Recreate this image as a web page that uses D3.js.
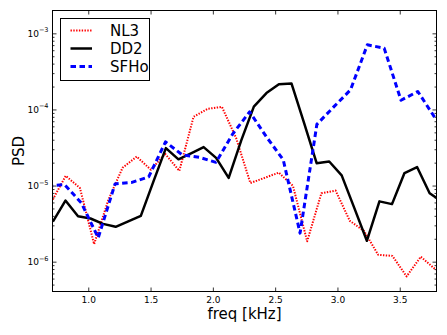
<!DOCTYPE html>
<html>
<head>
<meta charset="utf-8">
<script src="https://cdn.jsdelivr.net/npm/d3@7"></script>
<style>
  body { margin: 0; background: #fff; }
  svg { display: block; font-family: "DejaVu Sans", sans-serif; }
</style>
</head>
<body>
<svg id="chart" width="447" height="335"></svg>
<script>
// NL3 (red dotted)
const nl3Freq = [0.705, 0.819, 0.933, 1.047, 1.161, 1.275, 1.389, 1.503, 1.617, 1.731,
    1.845, 1.959, 2.073, 2.187, 2.301, 2.415, 2.529, 2.643, 2.757, 2.871,
    2.985, 3.099, 3.213, 3.327, 3.441, 3.555, 3.669, 3.783, 3.897];
const nl3Psd = [6.1e-6, 1.34e-5, 9.3e-6, 1.70e-6, 6.45e-6, 1.71e-5, 2.40e-5, 1.61e-5, 2.61e-5, 1.56e-5,
    8.0e-5, 1.02e-4, 1.08e-4, 4.2e-5, 1.08e-5, 1.26e-5, 1.48e-5, 9.9e-6, 1.85e-6, 7.9e-6,
    8.6e-6, 3.44e-6, 2.54e-6, 1.23e-6, 1.19e-6, 6.4e-7, 1.16e-6, 8.0e-7, 7.0e-7];

// DD2 (black solid)
const dd2Freq = [0.716, 0.817, 0.918, 1.018, 1.119, 1.220, 1.321, 1.422, 1.522, 1.623,
    1.724, 1.825, 1.926, 2.026, 2.127, 2.228, 2.329, 2.430, 2.530, 2.631,
    2.732, 2.833, 2.934, 3.034, 3.135, 3.236, 3.337, 3.438, 3.538, 3.639,
    3.740, 3.841];
const dd2Psd = [3.36e-6, 6.35e-6, 3.96e-6, 3.69e-6, 3.14e-6, 2.87e-6, 3.39e-6, 4.0e-6, 1.12e-5, 3.10e-5,
    2.21e-5, 2.65e-5, 3.20e-5, 2.31e-5, 1.26e-5, 3.93e-5, 1.09e-4, 1.64e-4, 2.15e-4, 2.20e-4,
    6.67e-5, 1.97e-5, 2.07e-5, 1.36e-5, 5.09e-6, 1.88e-6, 6.2e-6, 5.7e-6, 1.46e-5, 1.75e-5,
    7.94e-6, 6.1e-6];

// SFHo (blue dashed)
const sfhoFreq = [0.675, 0.810, 0.945, 1.080, 1.215, 1.350, 1.485, 1.620, 1.755, 1.890,
    2.025, 2.160, 2.295, 2.430, 2.565, 2.700, 2.835, 2.970, 3.105, 3.240,
    3.375, 3.510, 3.645, 3.780, 3.915];
const sfhoPsd = [9.8e-6, 1.03e-5, 5.9e-6, 2.06e-6, 1.05e-5, 1.10e-5, 1.30e-5, 3.75e-5, 2.53e-5, 2.35e-5,
    2.02e-5, 4.78e-5, 9.3e-5, 4.36e-5, 2.18e-5, 2.37e-6, 6.37e-5, 1.08e-4, 1.81e-4, 7.06e-4,
    6.39e-4, 1.32e-4, 1.72e-4, 7.9e-5, 5.0e-5];

const xTicks = [1.0, 1.5, 2.0, 2.5, 3.0, 3.5];
const yTicks = [1e-6, 1e-5, 1e-4, 1e-3];
const yTickExp = ["\u22126", "\u22125", "\u22124", "\u22123"];

const series = [
    {name: "NL3", freq: nl3Freq, psd: nl3Psd, color: "#ff0000", width: 2, dash: "1.4,1.4"},
    {name: "DD2", freq: dd2Freq, psd: dd2Psd, color: "#000000", width: 2.5, dash: null},
    {name: "SFHo", freq: sfhoFreq, psd: sfhoPsd, color: "#0000ff", width: 3, dash: "5.5,3.5"},
];

const pLeft = 52.5, pRight = 436.5, pTop = 10.5, pBottom = 291.5;

const x = d3.scaleLinear().domain([0.713, 3.795]).range([pLeft, pRight]);
const y = d3.scaleLog().domain([Math.pow(10, -6.392), Math.pow(10, -2.70)]).range([pBottom, pTop]);

const svg = d3.select("#chart");

// minor log ticks
const minor = [];
for (let e = -7; e <= -3; e++) {
    for (let m = 2; m <= 9; m++) {
        const v = m * Math.pow(10, e);
        if (v > y.domain()[0] && v < y.domain()[1]) minor.push(v);
    }
}

const axes = svg.append("g").attr("class", "axes");

function styleAxis(g) {
    g.select(".domain").remove();
    g.selectAll(".tick line").attr("stroke", "#000").attr("stroke-width", 0.8);
}

axes.append("g")
    .attr("transform", `translate(0,${pBottom})`)
    .call(d3.axisBottom(x).tickValues(xTicks).tickSize(-4).tickPadding(5).tickFormat(d3.format(".1f")))
    .call(styleAxis)
    .call(g => g.selectAll("text").attr("font-size", 9).attr("font-family", "DejaVu Sans").attr("fill", "#000"));

axes.append("g")
    .attr("transform", `translate(0,${pTop})`)
    .call(d3.axisTop(x).tickValues(xTicks).tickSize(-4).tickFormat(""))
    .call(styleAxis);

axes.append("g")
    .attr("transform", `translate(${pLeft},0)`)
    .call(d3.axisLeft(y).tickValues(yTicks).tickSize(-4).tickFormat(""))
    .call(styleAxis);

axes.append("g")
    .attr("transform", `translate(${pLeft},0)`)
    .call(d3.axisLeft(y).tickValues(minor).tickSize(-2).tickFormat(""))
    .call(styleAxis);

axes.append("g")
    .attr("transform", `translate(${pRight},0)`)
    .call(d3.axisRight(y).tickValues(yTicks).tickSize(-4).tickFormat(""))
    .call(styleAxis);

axes.append("g")
    .attr("transform", `translate(${pRight},0)`)
    .call(d3.axisRight(y).tickValues(minor).tickSize(-2).tickFormat(""))
    .call(styleAxis);

// y tick labels as 10^n
const ylab = svg.append("g")
    .selectAll("text")
    .data(yTicks)
    .join("text")
    .attr("x", pLeft - 4)
    .attr("y", d => y(d) + 3.5)
    .attr("text-anchor", "end")
    .attr("font-size", 9)
    .attr("fill", "#000");
ylab.append("tspan").text("10");
ylab.append("tspan")
    .attr("dy", -4.5)
    .attr("font-size", 6.5)
    .text((d, i) => yTickExp[i]);

// lines
svg.append("clipPath").attr("id", "plotclip")
    .append("rect")
    .attr("x", pLeft).attr("y", pTop)
    .attr("width", pRight - pLeft).attr("height", pBottom - pTop);

const line = d3.line()
    .x(d => x(d[0]))
    .y(d => y(d[1]));

const plot = svg.append("g").attr("clip-path", "url(#plotclip)");
series.forEach(s => {
    plot.append("path")
        .datum(s.freq.map((f, i) => [f, s.psd[i]]))
        .attr("d", line)
        .attr("fill", "none")
        .attr("stroke", s.color)
        .attr("stroke-width", s.width)
        .attr("stroke-dasharray", s.dash)
        .attr("stroke-linejoin", "round");
});

// frame
svg.append("rect")
    .attr("x", pLeft).attr("y", pTop)
    .attr("width", pRight - pLeft).attr("height", pBottom - pTop)
    .attr("fill", "none")
    .attr("stroke", "#000")
    .attr("stroke-width", 1);

// axis labels
svg.append("text")
    .attr("x", (pLeft + pRight) / 2)
    .attr("y", 319)
    .attr("text-anchor", "middle")
    .attr("font-size", 15)
    .text("freq [kHz]");

svg.append("text")
    .attr("transform", `translate(24,${(pTop + pBottom) / 2}) rotate(-90)`)
    .attr("text-anchor", "middle")
    .attr("font-size", 15)
    .text("PSD");

// legend
const legend = svg.append("g");
legend.append("rect")
    .attr("x", 60.5).attr("y", 18.5)
    .attr("width", 89).attr("height", 62)
    .attr("fill", "#fff")
    .attr("stroke", "#000")
    .attr("stroke-width", 1);

const item = legend.selectAll("g.item")
    .data(series)
    .join("g")
    .attr("class", "item")
    .attr("transform", (d, i) => `translate(0,${36 + i * 18})`);

item.append("line")
    .attr("x1", 70.5).attr("x2", 92)
    .attr("y1", -5.5).attr("y2", -5.5)
    .attr("stroke", d => d.color)
    .attr("stroke-width", d => d.width)
    .attr("stroke-dasharray", d => d.dash);

item.append("text")
    .attr("x", 110)
    .attr("y", 0)
    .attr("font-size", 15)
    .text(d => d.name);
</script>
</body>
</html>
